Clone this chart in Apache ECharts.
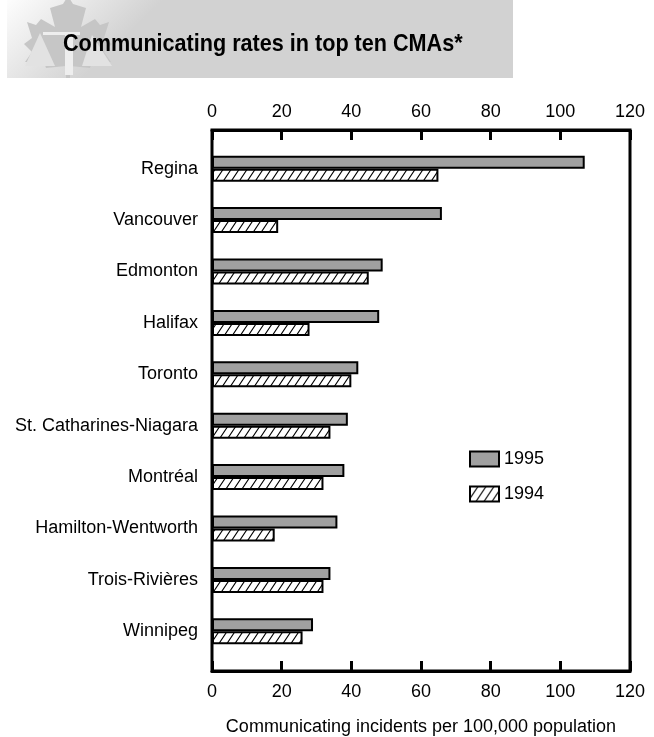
<!DOCTYPE html>
<html>
<head>
<meta charset="utf-8">
<script src="https://cdn.jsdelivr.net/npm/echarts@6/dist/echarts.min.js"></script>
<style>
html,body{margin:0;padding:0;background:#fff;}
#chart{width:654px;height:737px;}
</style>
</head>
<body>
<div id="chart"></div>
<script>
// ---- data ----
const categories = ['Regina','Vancouver','Edmonton','Halifax','Toronto','St. Catharines-Niagara','Montréal','Hamilton-Wentworth','Trois-Rivières','Winnipeg'];
const rates1995 = [107,66,49,48,42,39,38,36,34,29];
const rates1994 = [65,19,45,28,40,34,32,18,32,26];
const seriesNames = ['1995','1994'];
const titleText = 'Communicating rates in top ten CMAs*';
const axisTitle = 'Communicating incidents per 100,000 population';
const xMin = 0, xMax = 120, xStep = 20;

const FONT = '"Liberation Sans", Arial, sans-serif';

// hatch pattern
function makeHatch(){
  const c = document.createElement('canvas');
  c.width = 8; c.height = 12;
  const g = c.getContext('2d');
  g.fillStyle = '#fff'; g.fillRect(0,0,8,12);
  g.strokeStyle = '#000'; g.lineWidth = 1.1;
  g.beginPath();
  g.moveTo(-2,15); g.lineTo(10,-3);
  g.moveTo(6,15); g.lineTo(18,-3);
  g.moveTo(-10,15); g.lineTo(2,-3);
  g.stroke();
  return c;
}
const hatch = {image: makeHatch(), repeat: 'repeat'};

// maple leaf decoration (header)
function mirror(pts, cx){
  const r = pts.slice();
  for (let i = pts.length - 1; i >= 0; i--) r.push([2*cx - pts[i][0], pts[i][1]]);
  return r;
}
const cx = 68;
const leafRight = [[68,-4],[73,4],[86,8],[81,27],[95,19],[100,25],[109,22],[104,38],[112,44],[104,52],[111,62],[92,62],[90,68],[70,66],[70,78]];
const leaf = mirror(leafRight, cx);

const chart = echarts.init(document.getElementById('chart'), null, {renderer:'canvas'});
const option = {
  animation: false,
  backgroundColor: '#fff',
  textStyle: {fontFamily: FONT},
  graphic: [
    {type:'rect', shape:{x:7,y:0,width:506,height:78}, z:0,
     style:{fill:{type:'linear',x:0,y:0,x2:0.15,y2:1,colorStops:[{offset:0,color:'#fdfdfd'},{offset:1,color:'#d2d2d2'}]}}},
    {type:'polygon', shape:{points: leaf}, z:1, style:{fill:'#c6c6c6'}},
    {type:'polygon', shape:{points:[[40,33],[25,66],[55,66]]}, z:2, style:{fill:'#e2e2e2'}},
    {type:'polygon', shape:{points:[[92,35],[82,66],[112,66]]}, z:2, style:{fill:'#e2e2e2'}},
    {type:'rect', shape:{x:43,y:32,width:37,height:3}, z:2, style:{fill:'#eeeeee'}},
    {type:'rect', shape:{x:65,y:33,width:8,height:42}, z:2, style:{fill:'#eeeeee'}},
    {type:'text', x:63, y:44, z:3, scaleX:0.9,
     style:{text:titleText, fill:'#000', font:'bold 24px '+FONT, verticalAlign:'middle', align:'left'}}
  ],
  legend: {
    data: seriesNames,
    orient: 'vertical',
    left: 464, top: 445,
    icon: 'rect',
    itemWidth: 29, itemHeight: 15,
    itemGap: 17,
    selectedMode: false,
    textStyle: {fontSize: 18, color:'#000', fontFamily: FONT}
  },
  grid: [
    {left:212, right:24, top:130, bottom:66, containLabel:false, outerBoundsMode:'none',
     show:true, borderColor:'#000', borderWidth:3, backgroundColor:'transparent'},
    {left:212, right:24, top:143, bottom:80, containLabel:false, outerBoundsMode:'none'}
  ],
  xAxis: [
    {gridIndex:0, type:'value', position:'top', min:xMin, max:xMax, interval:xStep,
     axisLine:{show:true, onZero:false, lineStyle:{color:'#000', width:3}},
     axisTick:{show:true, inside:true, length:10, lineStyle:{color:'#000', width:3}},
     axisLabel:{fontSize:18, color:'#000', margin:9, fontFamily:FONT},
     splitLine:{show:false}},
    {gridIndex:0, type:'value', position:'bottom', min:xMin, max:xMax, interval:xStep,
     axisLine:{show:true, onZero:false, lineStyle:{color:'#000', width:3}},
     axisTick:{show:true, inside:true, length:10, lineStyle:{color:'#000', width:3}},
     axisLabel:{fontSize:18, color:'#000', margin:12, fontFamily:FONT},
     splitLine:{show:false},
     name: axisTitle, nameLocation:'middle', nameGap:47,
     nameTextStyle:{fontSize:18, color:'#000', fontFamily:FONT}},
    {gridIndex:1, type:'value', min:xMin, max:xMax, show:false}
  ],
  yAxis: [
    {gridIndex:0, type:'value', min:0, max:1, show:false},
    {gridIndex:1, type:'category', data:categories, inverse:true,
     axisLine:{show:false}, axisTick:{show:false},
     axisLabel:{fontSize:18, color:'#000', margin:14, fontFamily:FONT}}
  ],
  series: [
    {name:seriesNames[0], type:'bar', xAxisIndex:2, yAxisIndex:1, data:rates1995,
     barWidth:13, barGap:'0%',
     itemStyle:{color:'#a0a0a0', borderColor:'#000', borderWidth:2}},
    {name:seriesNames[1], type:'bar', xAxisIndex:2, yAxisIndex:1, data:rates1994,
     barWidth:13, barGap:'0%',
     itemStyle:{color:hatch, borderColor:'#000', borderWidth:2}}
  ]
};
chart.setOption(option);
</script>
</body>
</html>
